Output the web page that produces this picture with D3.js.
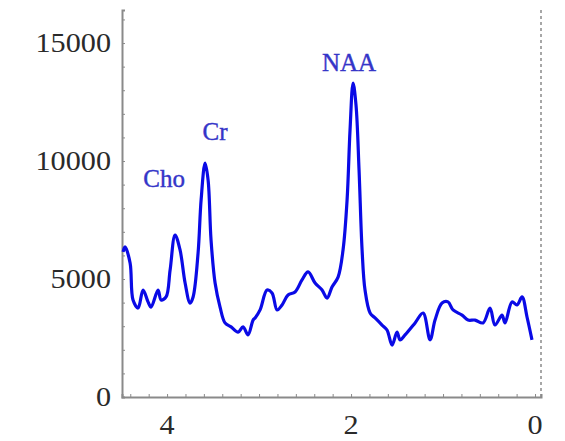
<!DOCTYPE html>
<html>
<head>
<meta charset="utf-8">
<script src="https://cdn.jsdelivr.net/npm/d3@7"></script>
<style>
	body { margin: 0; background: #fff; }
	text { font-family: 'Liberation Serif', 'DejaVu Serif', serif; }
</style>
</head>
<body>
<div id="chart"></div>
<script>
(function () {

	'use strict';

	// chemical shift (ppm)
	var ppm = [4.478, 4.457, 4.402, 4.370, 4.315, 4.261, 4.207, 4.174, 4.098, 4.065,
		4.011, 3.967, 3.913, 3.859, 3.804, 3.750, 3.717, 3.663, 3.630, 3.587,
		3.554, 3.522, 3.478, 3.424, 3.370, 3.304, 3.228, 3.174, 3.120, 3.065,
		3.043, 2.989, 2.913, 2.859, 2.804, 2.750, 2.685, 2.609, 2.533, 2.467,
		2.391, 2.315, 2.261, 2.207, 2.141, 2.087, 2.043, 2.011, 1.978, 1.946,
		1.913, 1.880, 1.848, 1.793, 1.739, 1.663, 1.609, 1.554, 1.500, 1.467,
		1.413, 1.304, 1.217, 1.141, 1.087, 1.011, 0.946, 0.891, 0.793, 0.728,
		0.652, 0.565, 0.489, 0.435, 0.359, 0.326, 0.250, 0.196, 0.141, 0.087,
		0.033];

	var signal = [6150, 6360, 5680, 4110, 3770, 4530, 4030, 3810, 4530, 4110,
		4240, 5380, 6860, 6230, 4830, 3980, 4240, 6100, 8350, 9910,
		9190, 6650, 4830, 3810, 3140, 2970, 2750, 2970, 2630, 3260,
		3350, 3690, 4530, 4410, 3690, 3900, 4320, 4450, 4960, 5300,
		4830, 4530, 4190, 4660, 5080, 6230, 8350, 11310, 13300, 12370,
		9620, 6230, 4530, 3560, 3350, 3050, 2840, 2200, 2750, 2420,
		2630, 3140, 3560, 2420, 3260, 3980, 4030, 3690, 3470, 3260,
		3260, 3140, 3770, 3050, 3470, 3140, 4030, 3900, 4240, 3390,
		2420];

	var peakNames = ['Cho', 'Cr', 'NAA'];
	var peakPpm = [3.913, 3.587, 1.978];
	var peakLabelY = [8900, 10900, 13800];

	var xTicks = [4, 2, 0];
	var yTicks = [0, 5000, 10000, 15000];

	var width = 565;
	var height = 441;
	var margin = { top: 10, right: 24, bottom: 44, left: 122 };

	var svg = d3.select('#chart')
		.append('svg')
		.attr('width', width)
		.attr('height', height);

	var x = d3.scaleLinear()
		.domain([4.49, -0.065])
		.range([margin.left, width - margin.right]);

	var y = d3.scaleLinear()
		.domain([0, 16400])
		.range([height - margin.bottom, margin.top]);

	var axisColor = '#8a8a8a';

	// right frame, dashed
	svg.append('line')
		.attr('x1', x.range()[1])
		.attr('x2', x.range()[1])
		.attr('y1', y.range()[0])
		.attr('y2', y.range()[1])
		.attr('stroke', axisColor)
		.attr('stroke-width', 1.5)
		.style('stroke-dasharray', ('3, 3'));

	// bottom axis
	var xAxis = svg.append('g')
		.attr('transform', 'translate(0,' + y(0) + ')')
		.call(d3.axisBottom(x).tickValues(d3.range(0, 4.5, 0.2)).tickSize(-3).tickFormat(''));
	xAxis.select('.domain').attr('stroke', axisColor).attr('stroke-width', 2);
	xAxis.selectAll('.tick line').attr('stroke', axisColor);

	// labels in the picture are a little wider than the font
	svg.append('g')
		.selectAll('text')
		.data(xTicks)
		.enter()
		.append('text')
		.attr('transform', function (d) { return 'translate(' + x(d) + ',' + (y(0) + 37) + ') scale(1.12,1)'; })
		.attr('text-anchor', 'middle')
		.attr('font-size', 27)
		.attr('fill', '#2a2a2a')
		.text(function (d) { return d; });

	// left axis
	var yAxis = svg.append('g')
		.attr('transform', 'translate(' + x.range()[0] + ',0)')
		.call(d3.axisLeft(y).tickValues(d3.range(0, 16400, 1000)).tickSize(-3).tickFormat(''));
	yAxis.select('.domain').attr('stroke', axisColor).attr('stroke-width', 2);
	yAxis.selectAll('.tick line').attr('stroke', axisColor);

	svg.append('g')
		.selectAll('text')
		.data(yTicks)
		.enter()
		.append('text')
		.attr('transform', function (d) { return 'translate(' + (x.range()[0] - 11) + ',' + (y(d) + 9) + ') scale(1.12,1)'; })
		.attr('text-anchor', 'end')
		.attr('font-size', 27)
		.attr('fill', '#2a2a2a')
		.text(function (d) { return d; });

	var line = d3.line()
		.x(function (d, i) { return x(ppm[i]); })
		.y(function (d) { return y(d); })
		.curve(d3.curveCatmullRom.alpha(0.5));

	svg.append('path')
		.datum(signal)
		.attr('d', line)
		.attr('fill', 'none')
		.attr('stroke', '#0a0ae6')
		.attr('stroke-width', 3.2)
		.attr('stroke-linejoin', 'round');

	svg.append('g')
		.selectAll('text')
		.data(peakNames)
		.enter()
		.append('text')
		.attr('x', function (d, i) { return x(peakPpm[i]) + (i === 0 ? -11 : (i === 1 ? 10 : -4)); })
		.attr('y', function (d, i) { return y(peakLabelY[i]); })
		.attr('text-anchor', 'middle')
		.attr('font-size', 25)
		.attr('fill', '#3535c8')
		.attr('stroke', '#3535c8')
		.attr('stroke-width', 0.4)
		.text(function (d) { return d; });

})();
</script>
</body>
</html>
